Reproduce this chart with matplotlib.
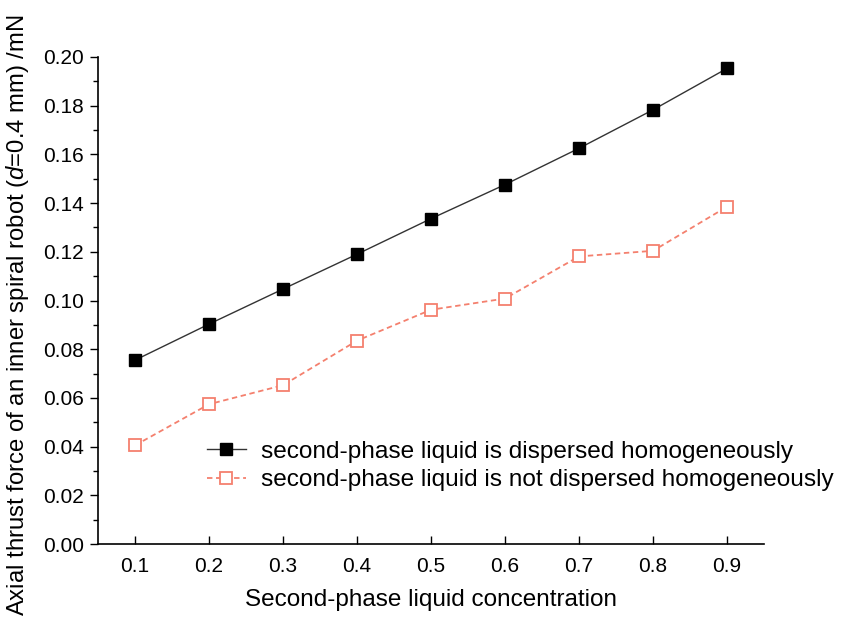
import matplotlib
matplotlib.use("Agg")
import matplotlib.pyplot as plt
from matplotlib.ticker import MultipleLocator

plt.rcParams['font.family'] = ['Liberation Sans', 'DejaVu Sans']
plt.rcParams['mathtext.fontset'] = 'custom'
plt.rcParams['mathtext.it'] = 'Liberation Sans:italic'
plt.rcParams['mathtext.rm'] = 'Liberation Sans'

concentration = [0.1, 0.2, 0.3, 0.4, 0.5, 0.6, 0.7, 0.8, 0.9]
dispersed = [0.0755, 0.0903, 0.1047, 0.1190, 0.1336, 0.1476, 0.1625, 0.1783, 0.1953]
not_dispersed = [0.0405, 0.0574, 0.0652, 0.0835, 0.0962, 0.1008, 0.1181, 0.1204, 0.1385]
label_dispersed = "second-phase liquid is dispersed homogeneously"
label_not = "second-phase liquid is not dispersed homogeneously"

fig = plt.figure(figsize=(8.49, 6.2), dpi=100)
ax = fig.add_axes([98/849, 1-544/620, (764-98)/849, (544-57)/620])

ax.plot(concentration, dispersed, color='#333333', lw=1.0, marker='s', ms=8,
        mfc='black', mec='black', label=label_dispersed)
ax.plot(concentration, not_dispersed, color='#f4806e', lw=1.3, ls=(0, (3, 2)), marker='s', ms=8,
        mfc='white', mec='#f4806e', mew=1.3, label=label_not)

ax.set_xlim(0.05, 0.95)
ax.set_ylim(0.0, 0.20)
ax.set_xticks(concentration)
ax.set_xticklabels([f"{c:.1f}" for c in concentration])
ax.yaxis.set_major_locator(MultipleLocator(0.02))
ax.yaxis.set_minor_locator(MultipleLocator(0.01))
ax.set_yticklabels([f"{v:.2f}" for v in ax.get_yticks()])
ax.spines['top'].set_visible(False)
ax.spines['right'].set_visible(False)
for s in ['left', 'bottom']:
    ax.spines[s].set_linewidth(1.2)
ax.tick_params(axis='y', which='major', direction='out', length=6, width=1.0, labelsize=15, pad=4)
ax.tick_params(axis='y', which='minor', direction='out', length=3.5, width=1.0)
ax.tick_params(axis='x', which='major', direction='in', length=6, width=1.0, labelsize=15, pad=9)

ax.set_xlabel("Second-phase liquid concentration", fontsize=17.5, labelpad=10)
ax.set_ylabel(r"Axial thrust force of an inner spiral robot ($\mathit{d}$=0.4 mm) /mN", fontsize=17.2)
ax.yaxis.set_label_coords(-0.100, 0.47)

leg = ax.legend(loc='center left', bbox_to_anchor=(197/849, 1-466/620), bbox_transform=fig.transFigure,
                frameon=False, fontsize=17.6, handlelength=1.6, handletextpad=0.6, labelspacing=0.25,
                borderaxespad=0)

fig.savefig("out.png", dpi=100)
